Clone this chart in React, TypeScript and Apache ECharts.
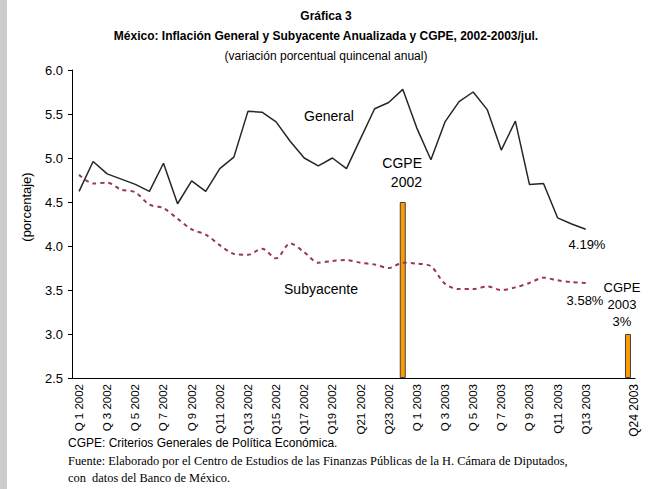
import React, { useEffect, useRef } from "react";
import * as echarts from "echarts";

const categories = [
  "Q 1 2002", "Q 2 2002", "Q 3 2002", "Q 4 2002", "Q 5 2002", "Q 6 2002", "Q 7 2002", "Q 8 2002",
  "Q 9 2002", "Q10 2002", "Q11 2002", "Q12 2002", "Q13 2002", "Q14 2002", "Q15 2002", "Q16 2002",
  "Q17 2002", "Q18 2002", "Q19 2002", "Q20 2002", "Q21 2002", "Q22 2002", "Q23 2002", "Q24 2002",
  "Q 1 2003", "Q 2 2003", "Q 3 2003", "Q 4 2003", "Q 5 2003", "Q 6 2003", "Q 7 2003", "Q 8 2003",
  "Q 9 2003", "Q10 2003", "Q11 2003", "Q12 2003", "Q13 2003", "Q14 2003", "", "Q24 2003",
];

const general = [
  4.62, 4.96, 4.82, 4.76, 4.70, 4.62, 4.94, 4.48, 4.74, 4.62, 4.88, 5.01, 5.53, 5.52, 5.41, 5.19,
  5.00, 4.91, 5.00, 4.88, 5.22, 5.56, 5.63, 5.78, 5.34, 4.98, 5.41, 5.64, 5.75, 5.55, 5.09, 5.42,
  4.70, 4.71, 4.32, 4.25, 4.19, null, null, null,
];

const subyacente = [
  4.81, 4.71, 4.72, 4.64, 4.61, 4.47, 4.43, 4.31, 4.19, 4.13, 4.01, 3.91, 3.90, 3.97, 3.86, 4.03,
  3.93, 3.81, 3.83, 3.84, 3.81, 3.79, 3.75, 3.81, 3.80, 3.77, 3.57, 3.51, 3.51, 3.54, 3.50, 3.53,
  3.58, 3.64, 3.61, 3.59, 3.58, null, null, null,
];

const cgpe = [
  null, null, null, null, null, null, null, null, null, null, null, null, null, null, null, null,
  null, null, null, null, null, null, null, 4.5, null, null, null, null, null, null, null, null,
  null, null, null, null, null, null, null, 3.0,
];

const yTicks = { min: 2.5, max: 6.0, step: 0.5 };

const SANS = "'Liberation Sans', Arial, sans-serif";
const SERIF = "'Liberation Serif', 'Times New Roman', serif";

export default function App() {
  const ref = useRef<HTMLDivElement>(null);

  useEffect(() => {
    if (!ref.current) return;
    const chart = echarts.init(ref.current, undefined, { renderer: "svg" });

    const txt = (x: number, y: number, text: string, extra: any = {}) => ({
      type: "text",
      x,
      y,
      style: {
        text,
        fill: "#000",
        font: `13px ${SANS}`,
        textAlign: "center",
        textVerticalAlign: "middle",
        ...extra,
      },
    });

    chart.setOption({
      animation: false,
      backgroundColor: "#fff",
      grid: { left: 72, right: 18, top: 70, bottom: 111, containLabel: false },
      xAxis: {
        type: "category",
        data: categories,
        boundaryGap: true,
        axisLine: { lineStyle: { color: "#000", width: 1 } },
        axisTick: { interval: 1, length: 4, lineStyle: { color: "#000" } },
        axisLabel: {
          interval: (i: number) => i % 2 === 0 || i === 39,
          rotate: 90,
          fontSize: 11.5,
          fontFamily: SANS,
          color: "#000",
          margin: 6,
          formatter: (v: string, i: number) => (i === 39 ? `{last|${v}}` : v),
          rich: {
            last: { fontSize: 12, fontFamily: SANS, color: "#000", padding: [12, 0, 0, 0] },
          },
        },
        splitLine: { show: false },
      },
      yAxis: {
        type: "value",
        min: yTicks.min,
        max: yTicks.max,
        interval: yTicks.step,
        startValue: yTicks.min,
        axisLine: { show: true, lineStyle: { color: "#000", width: 1 } },
        axisTick: { show: true, length: 4, lineStyle: { color: "#000" } },
        axisLabel: {
          formatter: (v: number) => v.toFixed(1),
          fontSize: 13,
          fontFamily: SANS,
          color: "#000",
          margin: 9,
        },
        splitLine: { show: false },
      },
      series: [
        {
          name: "CGPE",
          type: "bar",
          data: cgpe,
          barWidth: 6,
          clip: true,
          itemStyle: { color: "#FF9900", borderColor: "#404040", borderWidth: 1 },
        },
        {
          name: "General",
          type: "line",
          data: general,
          symbol: "none",
          lineStyle: { color: "#262626", width: 1.5 },
        },
        {
          name: "Subyacente",
          type: "line",
          data: subyacente,
          symbol: "none",
          smooth: 0.3,
          lineStyle: { color: "#993366", width: 2, type: [4, 4] },
        },
      ],
      graphic: [
        { type: "rect", shape: { x: 0, y: 0, width: 7, height: 489 }, style: { fill: "#cccccc" } },
        txt(326, 16, "Gráfica 3", { font: `bold 12px ${SANS}` }),
        txt(326, 36, "México: Inflación General y Subyacente Anualizada y CGPE, 2002-2003/jul.", {
          font: `bold 12px ${SANS}`,
        }),
        txt(326, 56, "(variación porcentual quincenal anual)", { font: `12px ${SANS}` }),
        {
          type: "text",
          x: 26,
          y: 207,
          rotation: Math.PI / 2,
          style: {
            text: "(porcentaje)",
            fill: "#000",
            font: `13px ${SANS}`,
            textAlign: "center",
            textVerticalAlign: "middle",
          },
        },
        txt(329, 116, "General", { font: `14px ${SANS}` }),
        txt(321, 289, "Subyacente", { font: `14px ${SANS}` }),
        txt(422, 163, "CGPE", { font: `14px ${SANS}`, textAlign: "right" }),
        txt(422, 182, "2002", { font: `14px ${SANS}`, textAlign: "right" }),
        txt(587, 244, "4.19%"),
        txt(585, 300, "3.58%"),
        txt(622, 287, "CGPE"),
        txt(622, 304, "2003"),
        txt(622, 321, "3%"),
        txt(68, 443, "CGPE: Criterios Generales de Política Económica.", {
          font: `12px ${SANS}`,
          textAlign: "left",
        }),
        txt(
          68,
          461,
          "Fuente: Elaborado por el Centro de Estudios de las Finanzas Públicas de la H. Cámara de Diputados,",
          { font: `12.4px ${SERIF}`, textAlign: "left" }
        ),
        txt(68, 478, "con  datos del Banco de México.", { font: `12.4px ${SERIF}`, textAlign: "left" }),
      ],
    });

    return () => chart.dispose();
  }, []);

  return (
    <div
      ref={ref}
      style={{ position: "fixed", left: 0, top: 0, width: 653, height: 489, background: "#fff" }}
    />
  );
}
